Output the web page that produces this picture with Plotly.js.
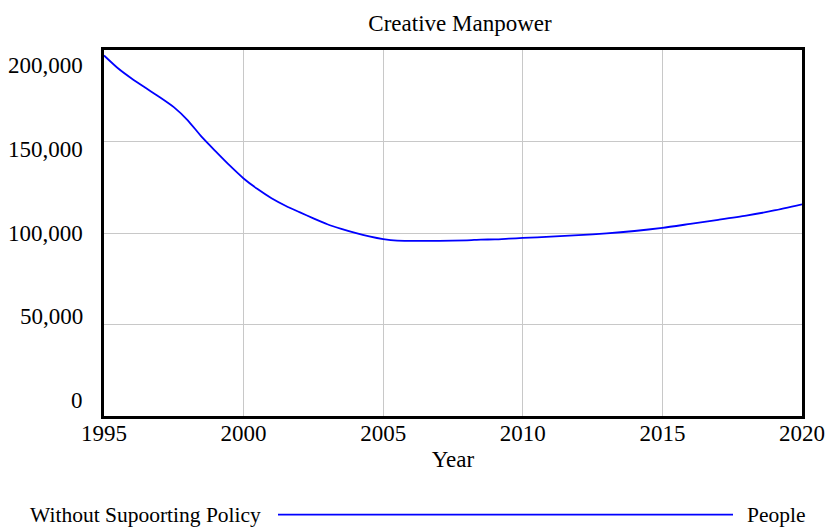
<!DOCTYPE html>
<html>
<head>
<meta charset="utf-8">
<script src="https://cdn.plot.ly/plotly-3.0.1.min.js"></script>
<style>html,body{margin:0;padding:0;background:#fff;}#chart{width:830px;height:529px;}</style>
</head>
<body>
<div id="chart"></div>
<script>
// Data
const years = [1995, 1995.5, 1996, 1996.5, 1997, 1997.5, 1998, 1998.5, 1999, 1999.5,
  2000, 2000.5, 2001, 2001.5, 2002, 2002.5, 2003, 2003.5, 2004, 2004.5,
  2005, 2005.5, 2006, 2007, 2008, 2008.5, 2009, 2009.5, 2010, 2011,
  2012, 2013, 2014, 2015, 2016, 2017, 2018, 2019, 2020];
const people = [197000, 190000, 184300, 179200, 174200, 168800, 161600, 152500, 144600, 136900,
  129800, 124000, 119000, 114900, 111400, 108000, 104800, 102300, 100100, 98200,
  96700, 95800, 95700, 95700, 96000, 96400, 96500, 96900, 97300, 98000,
  98800, 99800, 101100, 102800, 105000, 107200, 109500, 112300, 115700];
const xTicks = [1995, 2000, 2005, 2010, 2015, 2020];
const yTicks = [0, 50000, 100000, 150000, 200000];
const yTickText = ["0", "50,000", "100,000", "150,000", "200,000"];
const seriesName = "Without Supoorting Policy";
const unitName = "People";
const chartTitle = "Creative Manpower";
const xTitle = "Year";

const FONT = "Liberation Serif";

const trace = {
  x: years, y: people, type: 'scatter', mode: 'lines',
  line: {color: '#0000ff', width: 1.8, shape: 'spline', smoothing: 0.6}, name: seriesName, showlegend: false,
  hoverinfo: 'skip'
};

// Y labels: Vensim-style, spread evenly slightly inside the axis ends
const yLabelAnn = yTicks.map((v, i) => ({
  xref: 'paper', yref: 'y', x: 0, y: v, xanchor: 'right', yanchor: 'middle',
  xshift: -19, yshift: (100000 - v) / 50000 * 7.6,
  text: yTickText[i], showarrow: false,
  font: {family: FONT, size: 23, color: '#000'}
}));

const PW = 698, PH = 365.5;
const legY = -(514 - 415.5) / PH;

const layout = {
  width: 830, height: 529,
  margin: {l: 104, r: 28, t: 50, b: 113},
  paper_bgcolor: '#fff', plot_bgcolor: '#fff',
  font: {family: FONT, color: '#000'},
  title: {text: chartTitle, font: {family: FONT, size: 23, color: '#000'},
    xref: 'paper', x: 0.51, xanchor: 'center', yref: 'container', y: 0.957, yanchor: 'middle'},
  xaxis: {
    range: [1995, 2020], tickvals: xTicks, ticktext: xTicks.map(String),
    showgrid: true, gridcolor: '#c8c8c8', gridwidth: 1,
    showline: true, linecolor: '#000', linewidth: 3, mirror: true,
    ticks: '', zeroline: false, ticklabelstandoff: -6,
    tickfont: {family: FONT, size: 23, color: '#000'},
    title: {text: xTitle, font: {family: FONT, size: 23, color: '#000'}, standoff: 7},
    automargin: false, fixedrange: true
  },
  yaxis: {
    range: [0, 200000], tickvals: yTicks, showticklabels: false,
    showgrid: true, gridcolor: '#c8c8c8', gridwidth: 1,
    showline: true, linecolor: '#000', linewidth: 3, mirror: true,
    ticks: '', zeroline: false, automargin: false, fixedrange: true
  },
  annotations: yLabelAnn.concat([
    {xref: 'paper', yref: 'paper', x: (28 - 104) / PW, y: legY,
     xanchor: 'left', yanchor: 'middle', text: seriesName, showarrow: false,
     font: {family: FONT, size: 21.5, color: '#000'}},
    {xref: 'paper', yref: 'paper', x: (808 - 104) / PW, y: legY,
     xanchor: 'right', yanchor: 'middle', text: unitName, showarrow: false,
     font: {family: FONT, size: 21.5, color: '#000'}}
  ]),
  shapes: [
    {type: 'line', xref: 'paper', yref: 'paper',
     x0: (278 - 104) / PW, x1: (733 - 104) / PW, y0: legY, y1: legY,
     line: {color: '#0000ff', width: 1.8}}
  ],
  showlegend: false
};

Plotly.newPlot('chart', [trace], layout, {displayModeBar: false, staticPlot: true});
</script>
</body>
</html>
